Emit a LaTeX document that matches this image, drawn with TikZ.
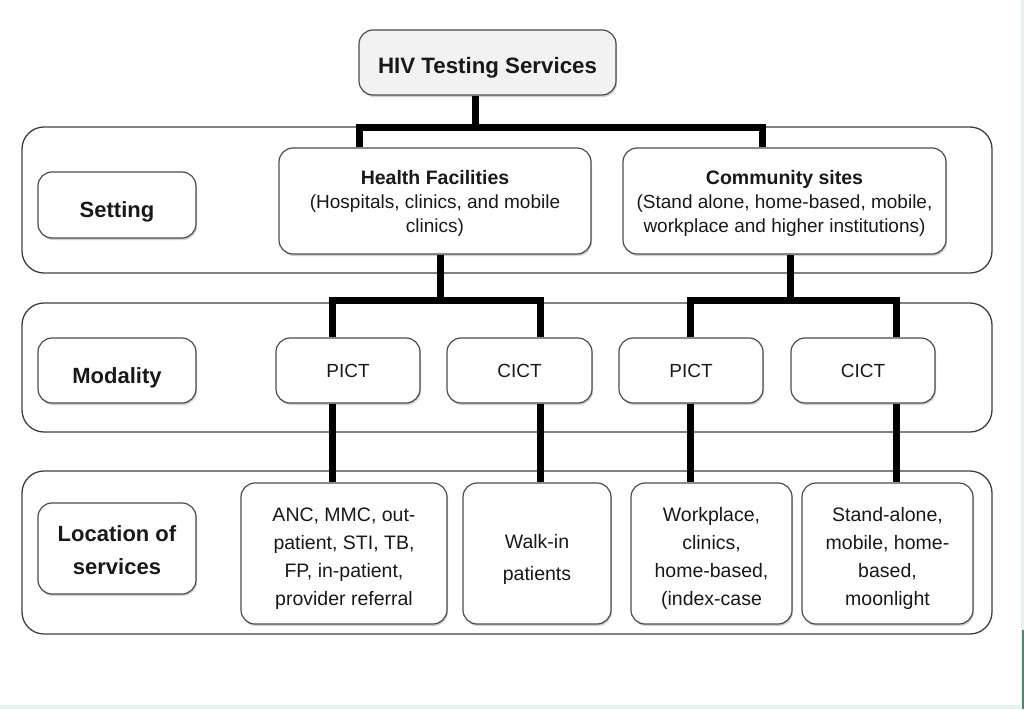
\documentclass[tikz,border=0pt]{standalone}
\usepackage{fontspec}
\setmainfont{Liberation Sans}
\usetikzlibrary{shadows}
\definecolor{mint}{HTML}{E6F3EC}
\definecolor{dgreen}{HTML}{4C8C64}
\newcommand\dn[1]{\rule{0pt}{#1}}
\begin{document}
\begin{tikzpicture}[x=1pt,y=-1pt,
  panel/.style={draw=black!75,line width=1.3pt,rounded corners=22pt},
  box/.style={draw=black!70,line width=1.2pt,fill=white,rounded corners=14pt,
    drop shadow={shadow xshift=1pt,shadow yshift=-2pt,fill=black!35},align=center,
    font=\fontsize{19}{24}\selectfont,text=black!90},
  lbl/.style={box,font=\bfseries\fontsize{22}{29}\selectfont},
  down/.style={execute at begin node={\rule{0pt}{#1}}},
  conn/.style={line width=7pt,black}]
\useasboundingbox (0,0) rectangle (1024,709);
\fill[white] (0,0) rectangle (1024,709);
\fill[mint] (1020.5,0) rectangle (1024,709);
\fill[mint] (0,705) rectangle (1024,709);
\fill[dgreen] (1021.5,630) rectangle (1024,709);
% panels
\draw[panel] (22,127) rectangle (992,273);
\draw[panel] (22,303) rectangle (992,432);
\draw[panel] (22,471) rectangle (992,634);
% junction coordinates
\coordinate (j0) at (475,127);
\coordinate (jl) at (359,127);
\coordinate (jr) at (762,127);
\coordinate (h1) at (440,300);
\coordinate (h1l) at (332,300);
\coordinate (h1r) at (540,300);
\coordinate (h2) at (790,300);
\coordinate (h2l) at (690,300);
\coordinate (h2r) at (896,300);
% nodes
\node[box,fill=black!5,minimum width=257pt,minimum height=65pt,font=\bfseries\fontsize{22.3}{27}\selectfont,down=27pt] (hts) at (487.5,62.5) {HIV Testing Services};
\node[lbl,minimum width=158pt,minimum height=66pt,down=29pt] (set) at (117,205) {Setting};
\node[box,minimum width=312pt,minimum height=106pt] (hf) at (435,201)
  {\dn{18.5pt}{\bfseries\fontsize{19.5}{24}\selectfont Health Facilities}\\(Hospitals, clinics, and mobile\\clinics)};
\node[box,minimum width=323pt,minimum height=106pt] (cs) at (784.5,201)
  {\dn{18.5pt}{\bfseries\fontsize{19.5}{24}\selectfont Community sites}\\(Stand alone, home-based, mobile,\\workplace and higher institutions)};
\node[lbl,minimum width=158pt,minimum height=65pt,down=30pt] (mod) at (117,370.5) {Modality};
\node[box,minimum width=144pt,minimum height=65pt] (p1) at (348,370.5) {PICT};
\node[box,minimum width=145pt,minimum height=65pt] (c1) at (519.5,370.5) {CICT};
\node[box,minimum width=144pt,minimum height=65pt] (p2) at (691,370.5) {PICT};
\node[box,minimum width=144pt,minimum height=65pt] (c2) at (863,370.5) {CICT};
\node[lbl,minimum width=158pt,minimum height=91pt,font=\bfseries\fontsize{22}{33}\selectfont] (loc) at (117,548.5) {\dn{20pt}Location of\\services};
\node[box,minimum width=206pt,minimum height=141pt,font=\fontsize{19.5}{28}\selectfont] (l1) at (344,553.5) {\dn{24.5pt}ANC, MMC, out-\\patient, STI, TB,\\FP, in-patient,\\provider referral};
\node[box,minimum width=148pt,minimum height=141pt,font=\fontsize{19.5}{32}\selectfont] (l2) at (537,553.5) {\dn{26.5pt}Walk-in\\patients};
\node[box,minimum width=161pt,minimum height=141pt,font=\fontsize{19.5}{28}\selectfont] (l3) at (711.5,553.5) {\dn{24.5pt}Workplace,\\clinics,\\home-based,\\(index-case};
\node[box,minimum width=171pt,minimum height=141pt,font=\fontsize{19.5}{28}\selectfont] (l4) at (887.5,553.5) {\dn{24.5pt}Stand-alone,\\mobile, home-\\based,\\moonlight};
% connectors
\draw[conn] (hts.south -| j0) -- (j0);
\draw[conn] ([xshift=-3.5pt]jl) -- ([xshift=3.5pt]jr);
\draw[conn] (jl) -- (jl |- hf.north);
\draw[conn] (jr) -- (jr |- cs.north);
\draw[conn] (hf.south -| h1) -- (h1);
\draw[conn] ([xshift=-3.5pt]h1l) -- ([xshift=3.5pt]h1r);
\draw[conn] (h1l) -- (h1l |- p1.north);
\draw[conn] (h1r) -- (h1r |- c1.north);
\draw[conn] (cs.south -| h2) -- (h2);
\draw[conn] ([xshift=-3.5pt]h2l) -- ([xshift=3.5pt]h2r);
\draw[conn] (h2l) -- (h2l |- p2.north);
\draw[conn] (h2r) -- (h2r |- c2.north);
\draw[conn] (p1.south -| h1l) -- (h1l |- l1.north);
\draw[conn] (c1.south -| h1r) -- (h1r |- l2.north);
\draw[conn] (p2.south -| h2l) -- (h2l |- l3.north);
\draw[conn] (c2.south -| h2r) -- (h2r |- l4.north);
\end{tikzpicture}
\end{document}
